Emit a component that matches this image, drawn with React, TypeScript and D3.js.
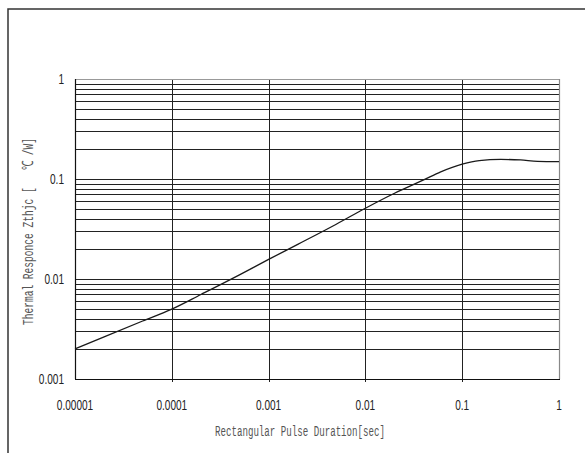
import * as d3 from "d3"
import React, { useRef, useEffect } from "react"

// pulse duration [sec] and thermal response Zthjc [C/W]
const pulseTimes = [1e-5, 2e-5, 5e-5, 1e-4, 2e-4, 5e-4, 1e-3, 2e-3, 5e-3, 1e-2, 2e-2, 4e-2, 6e-2, 0.1, 0.15, 0.25, 0.4, 0.6, 1]
const zthValues = [0.002, 0.00264, 0.0038, 0.005, 0.0070, 0.011, 0.0157, 0.0222, 0.0353, 0.051, 0.072, 0.098, 0.118, 0.141, 0.153, 0.157, 0.155, 0.150, 0.149]

const xTicks = [1e-5, 1e-4, 1e-3, 1e-2, 1e-1, 1]
const xTickLabels = ["0.00001", "0.0001", "0.001", "0.01", "0.1", "1"]
const yTicks = [0.001, 0.01, 0.1, 1]
const yTickLabels = ["0.001", "0.01", "0.1", "1"]

const W = 585
const H = 453

function App() {
    const ref = useRef<SVGSVGElement>(null)

    useEffect(() => {
        const svg = d3.select(ref.current)
        svg.selectAll("*").remove()

        const left = 75, right = 559, top = 79, bottom = 379

        const x = d3.scaleLog().domain([1e-5, 1]).range([left, right])
        const y = d3.scaleLog().domain([0.001, 1]).range([bottom, top])

        // outer frame
        svg.append("path")
            .attr("d", `M8,${H} L8,9 L${W},9`)
            .attr("fill", "none")
            .attr("stroke", "#333")
            .attr("stroke-width", 1.5)

        // horizontal grid at 1..9 of each decade
        const hLines: number[] = []
        for (let e = -3; e < 0; e++) {
            for (let m = 1; m <= 9; m++) hLines.push(m * Math.pow(10, e))
        }
        svg.selectAll("line.hgrid")
            .data(hLines.filter(v => v > 0.001))
            .enter()
            .append("line")
                .attr("class", "hgrid")
                .attr("x1", left)
                .attr("x2", right)
                .attr("y1", d => Math.round(y(d)) + 0.5)
                .attr("y2", d => Math.round(y(d)) + 0.5)
                .attr("stroke", "#222")
                .attr("stroke-width", 1)

        // vertical grid at decades
        svg.selectAll("line.vgrid")
            .data(xTicks.slice(1, -1))
            .enter()
            .append("line")
                .attr("class", "vgrid")
                .attr("x1", d => Math.round(x(d)) + 0.5)
                .attr("x2", d => Math.round(x(d)) + 0.5)
                .attr("y1", top)
                .attr("y2", bottom + 3)
                .attr("stroke", "#222")
                .attr("stroke-width", 1)

        // plot frame: top + right light, left + bottom dark
        svg.append("line")
            .attr("x1", left).attr("x2", right)
            .attr("y1", top + 0.5).attr("y2", top + 0.5)
            .attr("stroke", "#999").attr("stroke-width", 1)
        svg.append("line")
            .attr("x1", right + 0.5).attr("x2", right + 0.5)
            .attr("y1", top).attr("y2", bottom)
            .attr("stroke", "#888").attr("stroke-width", 1.2)
        svg.append("line")
            .attr("x1", left + 0.5).attr("x2", left + 0.5)
            .attr("y1", top).attr("y2", bottom)
            .attr("stroke", "#111").attr("stroke-width", 1.2)
        svg.append("line")
            .attr("x1", left).attr("x2", right + 1)
            .attr("y1", bottom + 0.5).attr("y2", bottom + 0.5)
            .attr("stroke", "#111").attr("stroke-width", 1.2)

        // curve
        const line = d3.line<number>()
            .x((d, i) => x(pulseTimes[i]))
            .y(d => y(d))
            .curve(d3.curveMonotoneX)
        svg.append("path")
            .datum(zthValues)
            .attr("d", line)
            .attr("fill", "none")
            .attr("stroke", "#1a1a1a")
            .attr("stroke-width", 1.3)

        const tickFont = "'Liberation Sans', Arial, sans-serif"

        // x tick labels (squeezed like a narrow face)
        svg.selectAll("text.xt")
            .data(xTicks)
            .enter()
            .append("text")
                .attr("transform", d => `translate(${x(d)},410) scale(0.72,1)`)
                .attr("text-anchor", "middle")
                .attr("font-size", "14px")
                .attr("font-family", tickFont)
                .attr("fill", "#222")
                .text((d, i) => xTickLabels[i])

        // y tick labels
        svg.selectAll("text.yt")
            .data(yTicks)
            .enter()
            .append("text")
                .attr("transform", d => `translate(64,${y(d) + 5}) scale(0.72,1)`)
                .attr("text-anchor", "end")
                .attr("font-size", "14px")
                .attr("font-family", tickFont)
                .attr("fill", "#222")
                .text((d, i) => yTickLabels[i])

        const titleFont = "'Liberation Mono', 'DejaVu Sans Mono', monospace"

        // axis titles
        svg.append("text")
            .attr("x", 215)
            .attr("y", 436)
            .attr("font-size", "15.5px")
            .attr("font-family", titleFont)
            .attr("fill", "#555")
            .attr("textLength", 170)
            .attr("lengthAdjust", "spacingAndGlyphs")
            .text("Rectangular Pulse Duration[sec]")

        svg.append("text")
            .attr("transform", "translate(33,325) rotate(-90)")
            .attr("font-size", "15.5px")
            .attr("font-family", titleFont)
            .attr("fill", "#555")
            .attr("textLength", 187)
            .attr("lengthAdjust", "spacingAndGlyphs")
            .style("white-space", "pre")
            .text("Thermal Responce Zthjc [   ℃ /W]")
    }, [])

    return (
        <div>
            <svg ref={ref} width={W} height={H} style={{ position: "absolute", left: 0, top: 0, background: "#fff" }}>
            </svg>
        </div>
    )
}

export default App
